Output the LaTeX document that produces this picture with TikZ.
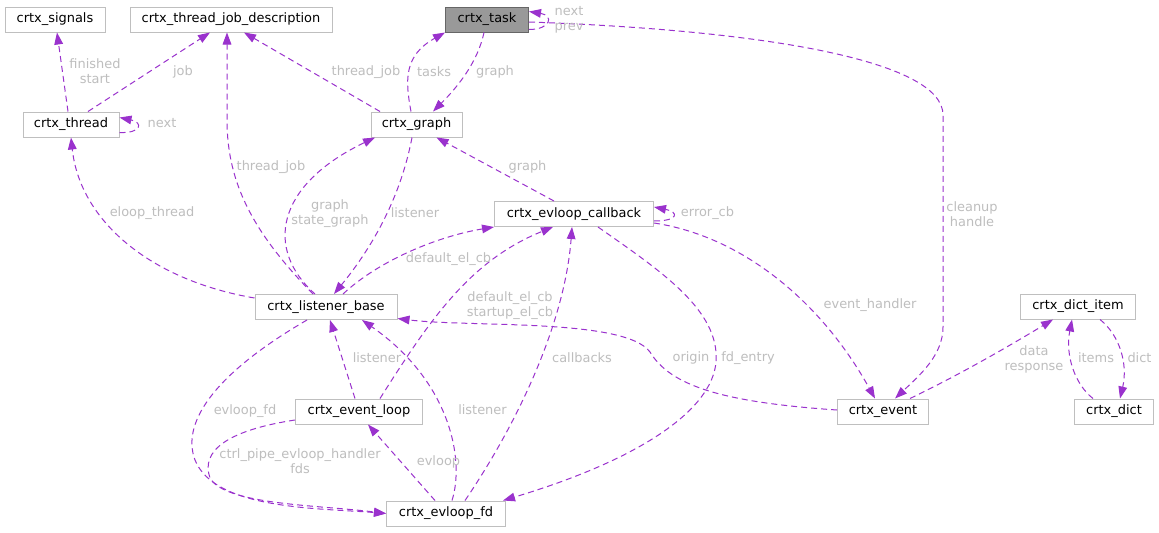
\documentclass[tikz,border=0pt]{standalone}
\usepackage{fontspec}
\setmainfont{DejaVu Sans}
\usetikzlibrary{arrows.meta,calc}
\definecolor{edgecol}{HTML}{9A32CD}
\definecolor{lblcol}{HTML}{BEBEBE}
\definecolor{boxcol}{HTML}{BFBFBF}
\definecolor{taskfill}{HTML}{999999}
\definecolor{taskdraw}{HTML}{666666}
\tikzset{
 cls/.style={draw=boxcol, fill=white, line width=0.75pt, inner sep=0pt, minimum height=18.75pt, font=\fontsize{9.7}{11.25}\selectfont, text=black},
 rel/.style={draw=edgecol, line width=0.75pt, dash pattern=on 4.5pt off 3pt, -{Triangle[length=9pt,width=6.5pt]}},
 lbl/.style={text=lblcol, font=\fontsize{9.7}{11.25}\selectfont, align=center, inner sep=0pt},
}
\begin{document}
\begin{tikzpicture}[x=0.75pt,y=-0.75pt]
\useasboundingbox (0,0) rectangle (1159,532);
\fill[white] (0,0) rectangle (1159,532);
% nodes
\node[cls, minimum width=75pt] (sig) at (55,19.5) {crtx\_signals};
\node[cls, minimum width=151.5pt] (tjd) at (231,19.5) {crtx\_thread\_job\_description};
\node[cls, minimum width=62.25pt, fill=taskfill, draw=taskdraw] (task) at (487,19.5) {crtx\_task};
\node[cls, minimum width=72pt] (thread) at (71,124.5) {crtx\_thread};
\node[cls, minimum width=68.25pt] (graph) at (416.5,124.5) {crtx\_graph};
\node[cls, minimum width=119.25pt] (cb) at (574,214) {crtx\_evloop\_callback};
\node[cls, minimum width=106.5pt] (lb) at (326,307) {crtx\_listener\_base};
\node[cls, minimum width=95.25pt] (el) at (359,411.5) {crtx\_event\_loop};
\node[cls, minimum width=89.25pt] (fd) at (446,513.5) {crtx\_evloop\_fd};
\node[cls, minimum width=68.25pt] (ev) at (883,411.5) {crtx\_event};
\node[cls, minimum width=86.25pt] (di) at (1078,306.5) {crtx\_dict\_item};
\node[cls, minimum width=59.25pt] (dict) at (1114,411.5) {crtx\_dict};
% edges
\draw[rel] ($(thread.north)+(-3,0)$) -- ($(sig.south)+(2,0)$);
\draw[rel] ($(thread.north)+(17,0)$) -- ($(tjd.south)+(-21,0)$);
\draw[rel] ($(thread.east)+(0,8)$) .. controls +(22,1) and +(24,5) .. ($(thread.east)+(0,-7)$);
\draw[rel] ($(graph.north)+(-36.5,0)$) -- ($(tjd.south)+(13,0)$);
\draw[rel] ($(graph.north)+(-5.5,0)$) .. controls +(-6,-32) and +(-41,23) .. (task.south west);
\draw[rel] ($(task.south)+(-3,0)$) .. controls +(-6,28) and +(27,-27) .. ($(graph.north)+(16.5,0)$);
\draw[rel] ($(task.east)+(0,10)$) .. controls +(22,0) and +(25,4) .. ($(task.east)+(0,-8)$);
\draw[rel] ($(task.east)+(0,2.5)$) .. controls (760,30) and (943,60) .. (943,115) -- (943,327) .. controls (943,355) and (920,375) .. ($(ev.north)+(12,0)$);
\draw[rel] ($(graph.south)+(-4.5,0)$) .. controls +(-12,63) and +(36,-44) .. ($(lb.north)+(8,0)$);
\draw[rel] ($(lb.north)+(-11,0)$) .. controls +(-50,-44.5) and +(-100,48) .. ($(graph.south)+(-41.5,0)$);
\draw[rel] ($(lb.north)+(-13,0)$) .. controls +(-58,-59.5) and +(0,65) .. (227,120) -- ($(tjd.south)+(-4,0)$);
\draw[rel] ($(lb.west)+(0,-9)$) .. controls +(-105,-18) and +(9,83) .. (thread.south);
\draw[rel] ($(cb.north)+(-20,0)$) -- ($(graph.south)+(20,0)$);
\draw[rel] ($(cb.east)+(0,7)$) .. controls +(25,0) and +(25,5) .. ($(cb.east)+(0,-7)$);
\draw[rel] ($(lb.north)+(17,0)$) .. controls +(37,-34.5) and +(-54.5,9) .. (cb.south west);
\draw[rel] ($(el.north)+(21,0)$) .. controls +(50,-79) and +(-83,33.5) .. ($(cb.south)+(-21,0)$);
\draw[rel] ($(fd.north)+(19,0)$) .. controls +(55,-81) and +(-7,93.5) .. ($(cb.south)+(-2,0)$);
\draw[rel] ($(cb.east)+(0,9)$) .. controls +(86.5,13) and +(-55,-99) .. ($(ev.north)+(-8,0)$);
\draw[rel] ($(cb.south)+(24,0)$) .. controls +(62,43.5) and +(4,-52) .. (716,362) .. controls +(-4,48) and +(137,-41) .. ($(fd.north)+(57,0)$);
\draw[rel] ($(ev.west)+(0,-1.5)$) .. controls +(-117.5,-8) and +(20,33) .. (650,352) .. controls +(-25,-34) and +(73,9) .. ($(lb.south east)+(0,-1.5)$);
\draw[rel] ($(lb.south)+(-19,0)$) .. controls +(-87,50.5) and +(-15,-40) .. (195,460) .. controls +(20,50) and +(-66.5,-5.5) .. (fd.west);
\draw[rel] ($(el.north)+(-4,0)$) -- ($(lb.south)+(4,0)$);
\draw[rel] ($(fd.north)+(6,0)$) .. controls +(13,-41) and +(88,61) .. ($(lb.south)+(36,0)$);
\draw[rel] ($(el.west)+(0,8.5)$) .. controls +(-65.5,10) and +(-10,-28) .. (210,478) .. controls +(15,27) and +(-66.5,-8.5) .. (fd.west);
\draw[rel] ($(fd.north)+(-11,0)$) -- ($(el.south)+(9,0)$);
\draw[rel] ($(ev.north)+(27,0)$) .. controls +(50,-24) and +(-43,26) .. ($(di.south)+(-25,0)$);
\draw[rel] ($(dict.north)+(-21,0)$) .. controls +(-18,-14) and +(-7,36) .. ($(di.south)+(-6,0)$);
\draw[rel] ($(di.south)+(22,0)$) .. controls +(20,16) and +(8,-34) .. ($(dict.north)+(6,0)$);
% labels
\node[lbl] (l1) at (95,71.5) {finished\\start};
\node[lbl] (l2) at (183,72) {job};
\node[lbl] (l3) at (162,123.5) {next};
\node[lbl] (l4) at (366,72) {thread\_job};
\node[lbl] (l5) at (434,72) {tasks};
\node[lbl] (l6) at (495,72) {graph};
\node[lbl] (l7) at (569,20) {next\\prev};
\node[lbl] (l8) at (972,214) {cleanup\\handle};
\node[lbl] (l9) at (415,213) {listener};
\node[lbl] (l10) at (330,214) {graph\\state\_graph};
\node[lbl] (l11) at (271,167) {thread\_job};
\node[lbl] (l12) at (152,213) {eloop\_thread};
\node[lbl] (l13) at (527.5,167) {graph};
\node[lbl] (l14) at (707.5,213) {error\_cb};
\node[lbl] (l15) at (448.5,259) {default\_el\_cb};
\node[lbl] (l16) at (510,305.5) {default\_el\_cb\\startup\_el\_cb};
\node[lbl] (l17) at (582,358) {callbacks};
\node[lbl] (l18) at (870,305) {event\_handler};
\node[lbl] (l19) at (748,358) {fd\_entry};
\node[lbl] (l20) at (691,358) {origin};
\node[lbl] (l21) at (245,411) {evloop\_fd};
\node[lbl] (l22) at (377,358) {listener};
\node[lbl] (l23) at (482.5,410) {listener};
\node[lbl] (l24) at (300,461.5) {ctrl\_pipe\_evloop\_handler\\fds};
\node[lbl] (l25) at (438.5,461.5) {evloop};
\node[lbl] (l26) at (1034,359.5) {data\\response};
\node[lbl] (l27) at (1096,358) {items};
\node[lbl] (l28) at (1139.5,358) {dict};
\end{tikzpicture}
\end{document}
